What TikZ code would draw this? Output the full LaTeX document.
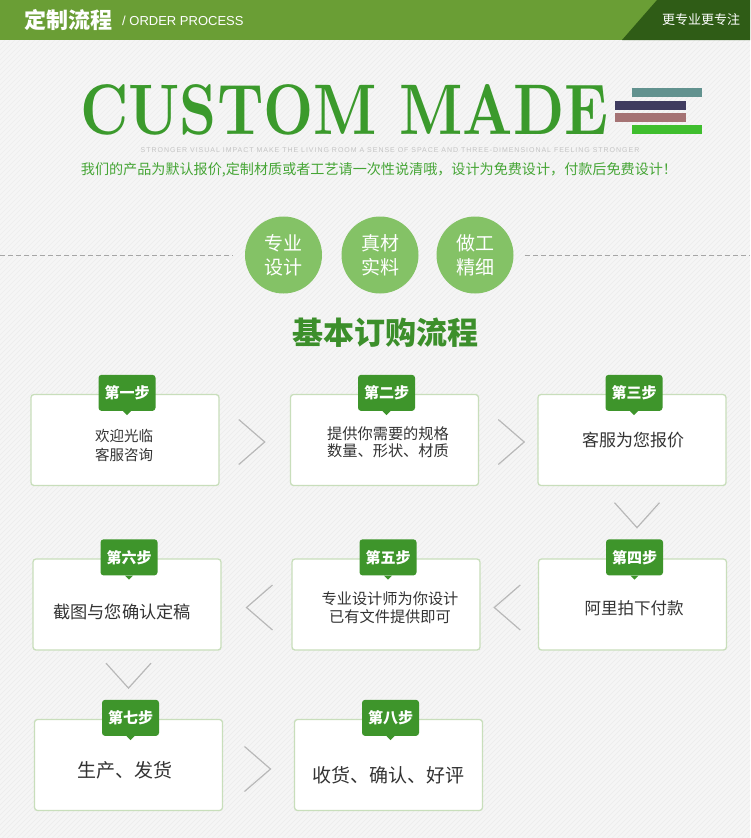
\documentclass[tikz,border=0pt]{standalone}
\usepackage{fontspec}
\usetikzlibrary{calc}
\newfontfamily\cjk{Noto Sans CJK SC}
\newfontfamily\lsans{Liberation Sans}
\newfontfamily\lsanssp{Liberation Sans}[LetterSpace=14]
\newfontfamily\lmr{Latin Modern Roman}
\definecolor{hdrgreen}{HTML}{6A9E35}
\definecolor{hdrdark}{HTML}{2F5C16}
\definecolor{bg}{HTML}{F5F5F5}
\definecolor{stripe}{HTML}{EDEDED}
\definecolor{titlegreen}{HTML}{3B9A2C}
\definecolor{subgreen}{HTML}{45A535}
\definecolor{circgreen}{HTML}{84C266}
\definecolor{headgreen}{HTML}{3C8F2B}
\definecolor{taggreen}{HTML}{3E952B}
\definecolor{boxline}{HTML}{C8DEBB}
\definecolor{chevgray}{HTML}{B8B8B8}
\definecolor{txt}{HTML}{333333}
\definecolor{graytxt}{HTML}{C4C4C4}
\definecolor{barA}{HTML}{62928F}
\definecolor{barB}{HTML}{3F3B5F}
\definecolor{barC}{HTML}{A57374}
\definecolor{barD}{HTML}{3FBE2E}
\begin{document}
\begin{tikzpicture}[x=1pt,y=-1pt,
  box/.style={draw=boxline,line width=1.3pt,fill=white,rounded corners=3pt,minimum width=188pt,minimum height=91pt,inner sep=0pt},
  tag/.style={fill=taggreen,rounded corners=3pt,minimum width=57pt,minimum height=36pt,text=white,inner sep=0pt,font=\cjk\bfseries\fontsize{15}{15}\selectfont},
  btxt/.style={text=txt,align=center,inner sep=0pt},
  chev/.style={draw=chevgray,line width=1.2pt},
  circ/.style={circle,fill=circgreen,minimum size=77pt,inner sep=0pt,text=white,align=center,font=\cjk\fontsize{19}{24}\selectfont},
  dline/.style={draw=gray!70,line width=0.8pt,dash pattern=on 5pt off 3pt}
]
\useasboundingbox (0,0) rectangle (750,838);
% background
\fill[bg] (0,0) rectangle (750,838);
\begin{scope}
\clip (0,40) rectangle (750,838);
\foreach \i in {0,5,...,1600} \draw[stripe,line width=0.7pt] (\i-838,838) -- (\i,0);
\end{scope}
% header
\fill[hdrgreen] (0,0) rectangle (750,40);
\fill[hdrdark] (657,0) -- (750,0) -- (750,40) -- (622,40) -- cycle;
\node[anchor=west,text=white,inner sep=0pt,font=\cjk\bfseries\fontsize{22}{22}\selectfont] (htitle) at (24,20) {定制流程};
\node[anchor=west,text=white,inner sep=0pt,font=\lsans\fontsize{13}{13}\selectfont] (hsub) at (122,21) {/ ORDER PROCESS};
\node[text=white,inner sep=0pt,font=\cjk\fontsize{13}{13}\selectfont] (hright) at (701,20) {更专业更专注};
% title
\node[anchor=south west,inner sep=0pt,text=titlegreen] (cm) at (80,135) {\resizebox{528pt}{50pt}{\lmr\bfseries CUSTOM MADE}};
\fill[barA] (632,88) rectangle (702,97);
\fill[barB] (615,101) rectangle (686,110);
\fill[barC] (615,113) rectangle (686,122);
\fill[barD] (632,125) rectangle (702,134);
\node[text=graytxt,inner sep=0pt,font=\lsanssp\fontsize{7}{7}\selectfont] (eng) at (390,150) {STRONGER VISUAL IMPACT MAKE THE LIVING ROOM A SENSE OF SPACE AND THREE-DIMENSIONAL FEELING STRONGER};
\node[text=subgreen,inner sep=0pt,font=\cjk\fontsize{14.1}{14}\selectfont] (sub) at (379,170) {我们的产品为默认报价,定制材质或者工艺请一次性说清哦，设计为免费设计，付款后免费设计！};
% dashed lines and circles
\coordinate (dl0) at (0,255);
\coordinate (dl1) at (233,255);
\coordinate (dr0) at (525,255);
\coordinate (dr1) at (750,255);
\draw[dline] (dl0) -- (dl1);
\draw[dline] (dr0) -- (dr1);
\node[circ] (p1) at (283.5,255) {专业\\设计};
\node[circ] (p2) at (380,255) {真材\\实料};
\node[circ] (p3) at (475,255) {做工\\精细};
\node[text=headgreen,inner sep=0pt,font=\cjk\bfseries\fontsize{31}{31}\selectfont] (hd) at (385,333) {基本订购流程};
% boxes
\node[box] (b1) at (125,440) {};
\node[box] (b2) at (384.5,440) {};
\node[box] (b3) at (632,440) {};
\node[box] (b4) at (632.5,604.5) {};
\node[box] (b5) at (386,604.5) {};
\node[box] (b6) at (127,604.5) {};
\node[box] (b7) at (128.5,765) {};
\node[box] (b8) at (388.5,765) {};
% tags
\foreach \b/\t in {b1/第一步,b2/第二步,b3/第三步,b4/第四步,b5/第五步,b6/第六步,b7/第七步,b8/第八步}{
  \node[tag] (t\b) at ([xshift=2pt,yshift=1pt]\b.north) {\t};
  \fill[taggreen] ([xshift=-4pt]t\b.south) -- ([yshift=-4pt]t\b.south) -- ([xshift=4pt]t\b.south) -- cycle;
}
% texts
\node[btxt,font=\cjk\fontsize{14.5}{19}\selectfont] (x1) at (124,445.5) {欢迎光临\\客服咨询};
\node[btxt,font=\cjk\fontsize{15.2}{17}\selectfont] (x2) at (388,442) {提供你需要的规格\\数量、形状、材质};
\node[btxt,font=\cjk\fontsize{17}{17}\selectfont] (x3) at (633,440) {客服为您报价};
\node[btxt,font=\cjk\fontsize{16.5}{17}\selectfont] (x4) at (634,608) {阿里拍下付款};
\node[btxt,font=\cjk\fontsize{15.2}{18}\selectfont] (x5) at (390,608) {专业设计师为你设计\\已有文件提供即可};
\node[btxt,font=\cjk\fontsize{17.2}{17}\selectfont] (x6) at (122,612) {截图与您确认定稿};
\node[btxt,font=\cjk\fontsize{19}{19}\selectfont] (x7) at (125,770) {生产、发货};
\node[btxt,font=\cjk\fontsize{19}{19}\selectfont] (x8) at (388.5,775) {收货、确认、好评};
% chevrons
\coordinate (c12) at ($(b1.east)!0.5!(b2.west)+(-3,2)$);
\coordinate (c23) at ($(b2.east)!0.5!(b3.west)+(3,2)$);
\coordinate (c34) at ($(b3.south)+(5,29)$);
\coordinate (c45) at ($(b5.east)!0.5!(b4.west)+(-2,3)$);
\coordinate (c56) at ($(b6.east)!0.5!(b5.west)+(3,3)$);
\coordinate (c67) at ($(b6.south)+(1.5,25)$);
\coordinate (c78) at ($(b7.east)!0.5!(b8.west)+(-1,4)$);
\foreach \c in {c12,c23,c78}
  \draw[chev] ([shift={(-13,-22.5)}]\c) -- ([shift={(13,0)}]\c) -- ([shift={(-13,22.5)}]\c);
\foreach \c in {c45,c56}
  \draw[chev] ([shift={(13,-22.5)}]\c) -- ([shift={(-13,0)}]\c) -- ([shift={(13,22.5)}]\c);
\foreach \c in {c34,c67}
  \draw[chev] ([shift={(-22.5,-12.5)}]\c) -- ([shift={(0,12.5)}]\c) -- ([shift={(22.5,-12.5)}]\c);
\end{tikzpicture}
\end{document}
